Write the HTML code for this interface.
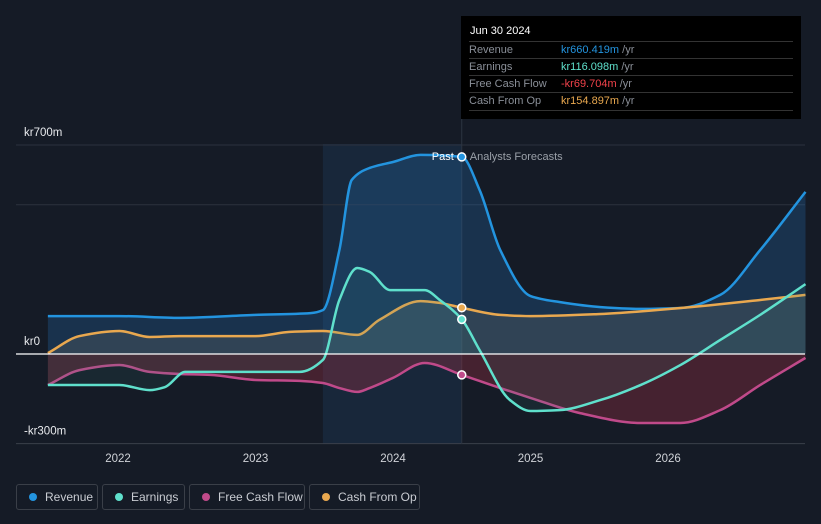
<!DOCTYPE html>
<html><head><meta charset="utf-8"><style>
body{margin:0;background:#151b26;font-family:"Liberation Sans",sans-serif;}
#wrap{position:relative;width:821px;height:524px;overflow:hidden;background:#151b26}
svg text{font-family:"Liberation Sans",sans-serif}
.tt{position:absolute;left:461px;top:16px;width:340px;height:103px;background:#000;}
.tt .h{color:#fff;font-size:11px;position:absolute;left:9px;top:9px}
.row{position:absolute;left:8px;width:324px;height:17px;border-top:1px solid #333;font-size:11px;color:#8a8f98;line-height:17px}
.row span.v{position:absolute;left:92px}
.leg{position:absolute;top:484px;height:26px;border:1px solid #3a3f48;border-radius:3px;color:#c9ccd2;font-size:12px;line-height:24px;box-sizing:border-box}
.leg i{position:absolute;left:12px;top:8px;width:8px;height:8px;border-radius:50%}
.leg span{position:absolute;left:28px}
</style></head><body>
<div id="wrap">
<svg id="chart" width="821" height="524"></svg>
<div class="tt">
<div class="h">Jun 30 2024</div>
<div class="row" style="top:25px">Revenue<span class="v" style="color:#2394df">kr660.419m <span style="color:#8a8f98">/yr</span></span></div>
<div class="row" style="top:42px">Earnings<span class="v" style="color:#5fe0cc">kr116.098m <span style="color:#8a8f98">/yr</span></span></div>
<div class="row" style="top:59px">Free Cash Flow<span class="v" style="color:#f0424a">-kr69.704m <span style="color:#8a8f98">/yr</span></span></div>
<div class="row" style="top:76px;border-bottom:1px solid #333">Cash From Op<span class="v" style="color:#e9a84f">kr154.897m <span style="color:#8a8f98">/yr</span></span></div>
</div>
<div class="leg" style="left:16px;width:82px"><i style="background:#2394df"></i><span>Revenue</span></div>
<div class="leg" style="left:102px;width:83px"><i style="background:#5fe0cc"></i><span>Earnings</span></div>
<div class="leg" style="left:189px;width:116px"><i style="background:#c04a8a"></i><span>Free Cash Flow</span></div>
<div class="leg" style="left:309px;width:111px"><i style="background:#e9a84f"></i><span>Cash From Op</span></div>
</div>
<script>
const revT=[2021.49,2022.01,2022.45,2023.0,2023.4,2023.49,2023.61,2023.7,2023.83,2024.0,2024.2,2024.5,2024.63,2024.78,2025.0,2025.21,2025.51,2025.8,2026.09,2026.38,2026.67,2027.0];
const revV=[127,127,121,131,137,147,348,583,623,643,667,660,549,348,194,174,157,151,154,198,348,543];
const earnT=[2021.49,2022.01,2022.23,2022.34,2022.49,2022.67,2023.0,2023.32,2023.49,2023.61,2023.74,2023.83,2023.98,2024.23,2024.34,2024.5,2024.63,2024.85,2025.0,2025.21,2025.51,2025.8,2026.09,2026.38,2026.67,2027.0];
const earnV=[-104,-104,-121,-111,-60,-60,-60,-60,-20,181,288,275,214,214,181,116,13,-154,-191,-188,-154,-104,-37,47,131,234];
const fcfT=[2021.49,2021.72,2022.01,2022.23,2022.45,2022.67,2023.0,2023.32,2023.49,2023.61,2023.74,2023.83,2024.0,2024.23,2024.5,2024.78,2025.0,2025.36,2025.8,2026.09,2026.38,2026.67,2027.0];
const fcfV=[-104,-54,-37,-60,-67,-70,-87,-90,-97,-114,-127,-114,-80,-30,-70,-114,-147,-198,-231,-231,-188,-104,-13];
const cfoT=[2021.49,2021.72,2022.01,2022.23,2022.45,2023.0,2023.25,2023.49,2023.74,2023.9,2024.2,2024.34,2024.5,2024.78,2025.0,2025.51,2026.09,2026.67,2027.0];
const cfoV=[3,60,77,57,60,60,74,77,64,114,177,171,155,131,127,134,154,181,198];
const yTicks=[700,0,-300];
const yLabels=["kr700m","kr0","-kr300m"];
const xTicks=[2022,2023,2024,2025,2026];
const X=t=>118+(t-2022)*137.5, Y=v=>354-v*0.2986;
const NS="http://www.w3.org/2000/svg", svg=document.getElementById('chart');
function mk(tag,attrs,parent){const e=document.createElementNS(NS,tag);for(const k in attrs)e.setAttribute(k,attrs[k]);(parent||svg).appendChild(e);return e;}
function path(T,V){const x=T.map(X),y=V.map(Y),n=x.length;const s=[],m=[];
for(let i=0;i<n-1;i++)s.push((y[i+1]-y[i])/(x[i+1]-x[i]));
m[0]=s[0];m[n-1]=s[n-2];
for(let i=1;i<n-1;i++){if(s[i-1]*s[i]<=0)m[i]=0;else{const h0=x[i]-x[i-1],h1=x[i+1]-x[i];m[i]=3*(h0+h1)/((2*h1+h0)/s[i-1]+(h1+2*h0)/s[i]);}}
let d="M"+x[0]+","+y[0];
for(let i=0;i<n-1;i++){const h=(x[i+1]-x[i])/3;d+=` C${x[i]+h},${y[i]+m[i]*h} ${x[i+1]-h},${y[i+1]-m[i+1]*h} ${x[i+1]},${y[i+1]}`;}
return d;}
let e=mk('rect',{x:X(2023.49),y:144,width:X(2024.5)-X(2023.49),height:300,fill:'#1a3048',opacity:0.6});

[700,500].forEach(v=>{const g=mk('line',{x1:16,x2:805,y1:Y(v),y2:Y(v),stroke:'#2c323d','stroke-width':1});
});
let bl=mk('line',{x1:16,x2:805,y1:Y(-300),y2:Y(-300),stroke:'#3a404a'});

mk('line',{x1:X(2024.5),x2:X(2024.5),y1:16,y2:444,stroke:'#2c3440'});
const series=[[revT,revV,'#2394df','rgba(35,110,180,0.28)','revenue'],[cfoT,cfoV,'#e9a84f','rgba(120,120,110,0.25)','cash-from-op'],[fcfT,fcfV,'#c04a8a','rgba(160,50,70,0.35)','free-cash-flow'],[earnT,earnV,'#5fe0cc','rgba(60,140,130,0.12)','earnings']];
series.forEach(s=>{const d=path(s[0],s[1]);const x0=X(s[0][0]),x1=X(s[0][s[0].length-1]);
const a=mk('path',{d:d+` L${x1},${Y(0)} L${x0},${Y(0)} Z`,fill:s[3]});

const l=mk('path',{d:d,fill:'none',stroke:s[2],'stroke-width':2.5});
});
let z=mk('line',{x1:16,x2:805,y1:Y(0),y2:Y(0),stroke:'#ffffff','stroke-width':1.2});

[[revT,revV,'#2394df'],[earnT,earnV,'#5fe0cc'],[fcfT,fcfV,'#c04a8a'],[cfoT,cfoV,'#e9a84f']].forEach(s=>{const i=s[0].indexOf(2024.5);
const c=mk('circle',{cx:X(2024.5),cy:Y(s[1][i]),r:4,fill:s[2],stroke:'#fff','stroke-width':1.5});
});
yTicks.forEach((v,i)=>{const t=mk('text',{x:24,y:Y(v)-9,fill:'#e8eaed','font-size':11.5});t.textContent=yLabels[i];
});
xTicks.forEach(v=>{const t=mk('text',{x:X(v),y:462,fill:'#d0d3d8','font-size':11.5,'text-anchor':'middle'});t.textContent=v;
});
let p=mk('text',{x:X(2024.5)-8,y:160,fill:'#fff','font-size':11,'text-anchor':'end'});p.textContent='Past';

let f=mk('text',{x:X(2024.5)+8,y:160,fill:'#9aa0a8','font-size':11});f.textContent='Analysts Forecasts';

</script>
</body></html>
